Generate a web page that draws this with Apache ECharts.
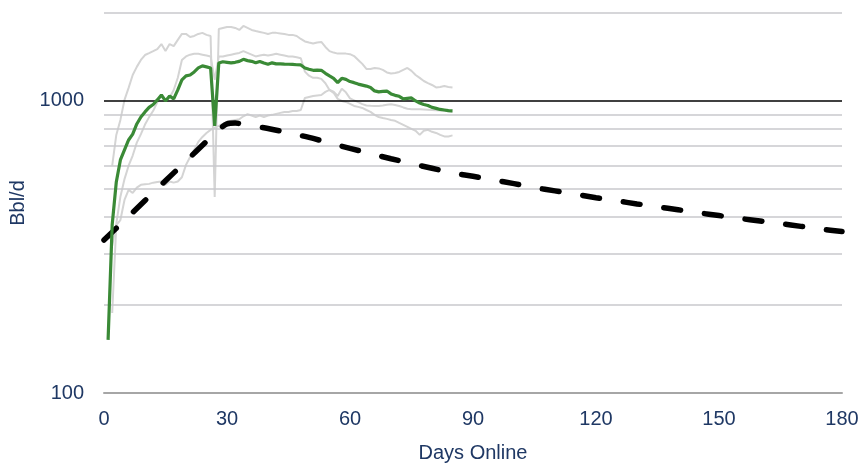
<!DOCTYPE html>
<html>
<head>
<meta charset="utf-8">
<script src="https://cdn.jsdelivr.net/npm/echarts@6/dist/echarts.min.js"></script>
<style>
  html, body { margin: 0; padding: 0; background: #ffffff; }
  #chart { width: 862px; height: 463px; }
</style>
</head>
<body>
<div id="chart"></div>
<script>
// Daily production, Bbl/d, by days online
const avgStartDay = 1;
const avgBbl = [152, 377, 528, 628, 680, 735, 770, 834, 881, 917,
  950, 972, 1008, 1048, 1000, 1040, 1016, 1091, 1180, 1218,
  1227, 1257, 1297, 1318, 1308, 1297, 821, 1349, 1362, 1356,
  1350, 1356, 1366, 1388, 1374, 1366, 1350, 1365, 1348, 1335,
  1350, 1339, 1339, 1336, 1335, 1333, 1330, 1328, 1297, 1283,
  1273, 1275, 1273, 1243, 1218, 1195, 1155, 1195, 1185, 1165,
  1155, 1142, 1133, 1124, 1112, 1082, 1074, 1078, 1081, 1057,
  1045, 1037, 1016, 1020, 1024, 1000, 984, 972, 965, 950,
  943, 935, 931, 926, 924];

// Individual wells, from day 2
const wellStartDay = 2;
const wellHigh = [600, 765, 861, 1008, 1108, 1227, 1308, 1381, 1436,
  1458, 1481, 1505, 1565, 1481, 1565, 1540, 1618, 1696, 1696,
  1656, 1669, 1696, 1710, 1683, 1669, 469, 1764, 1778, 1792,
  1792, 1778, 1750, 1806, 1778, 1750, 1736, 1723, 1710, 1696,
  1710, 1710, 1703, 1696, 1683, 1683, 1669, 1630, 1598, 1585,
  1573, 1585, 1592, 1530, 1481, 1464, 1452, 1452, 1452, 1446,
  1424, 1381, 1339, 1287, 1287, 1297, 1292, 1277, 1252, 1242,
  1247, 1257, 1277, 1297, 1267, 1227, 1199, 1170, 1151, 1134,
  1112, 1116, 1124, 1116, 1112];
const wellMid = [320, 380, 470, 540, 600, 650, 720, 770, 830,
  880, 925, 990, 1049, 1003, 1025, 1090, 1200, 1380, 1420,
  1440, 1450, 1450, 1440, 1430, 1420, 1180, 1420, 1420, 1430,
  1440, 1450, 1460, 1480, 1460, 1440, 1420, 1430, 1440, 1430,
  1440, 1450, 1440, 1430, 1420, 1420, 1410, 1400, 1260, 1220,
  1200, 1200, 1190, 1150, 1090, 1075, 1040, 1100, 1070, 1020,
  1005, 990, 975, 965, 962, 961, 961, 965, 970, 974,
  968, 961, 950, 940, 937, 937, 937, 935, 933, 931,
  930, 928, 926, 922, 918];
const wellLow = [188, 376, 391, 458, 496, 484, 505, 516, 518,
  520, 525, 528, 530, 516, 530, 525, 530, 548, 604,
  643, 680, 724, 753, 777, 796, 810, 821, 834, 848,
  855, 861, 865, 886, 901, 891, 881, 891, 881, 891,
  896, 903, 910, 917, 917, 924, 924, 931, 1024, 1032,
  1040, 1044, 1048, 1074, 1091, 1066, 1016, 1000, 992, 977,
  961, 954, 946, 931, 917, 896, 881, 874, 868, 861,
  855, 841, 828, 815, 802, 790, 765, 790, 796, 784,
  777, 765, 756, 756, 762];

// Type curve
const typeDays = [0, 5, 10, 15, 20, 25, 28, 30, 32, 35, 40, 45, 50, 55, 60, 65, 70, 75,
  80, 85, 90, 95, 100, 105, 110, 115, 120, 125, 130, 135, 140, 145, 150,
  155, 160, 165, 170, 175, 180];
const typeBbl = [334, 390, 456, 533, 622, 727, 795, 835, 840, 825, 805, 777, 750, 718, 688, 660, 634, 610,
  588, 567, 552, 536, 521, 505, 492, 479, 466, 455, 444, 434, 424, 414, 405,
  396, 388, 380, 372, 364, 357];

// Axis settings
const xTicks = [0, 30, 60, 90, 120, 150, 180];
const yLabelValues = [100, 1000];
const minorGridValues = [200, 300, 400, 500, 600, 700, 800, 900, 2000];
const majorGridValue = 1000;

const navy = '#1F3864';
const font = "'Liberation Sans', Arial, sans-serif";

function pairs(startDay, values) {
  return values.map((v, i) => [startDay + i, v]);
}

function wellSeries(name, values) {
  return {
    name: name,
    type: 'line',
    data: pairs(wellStartDay, values),
    showSymbol: false,
    symbol: 'none',
    silent: true,
    lineStyle: { color: '#D4D4D4', width: 2 },
    z: 3
  };
}

const chart = echarts.init(document.getElementById('chart'), null, { renderer: 'canvas' });

chart.setOption({
  animation: false,
  backgroundColor: '#ffffff',
  grid: { left: 104, right: 20, top: 13, bottom: 70, containLabel: false, outerBoundsMode: 'none' },
  xAxis: {
    type: 'value',
    min: xTicks[0],
    max: xTicks[xTicks.length - 1],
    interval: 30,
    name: 'Days Online',
    nameLocation: 'middle',
    nameGap: 50,
    nameTextStyle: { color: navy, fontSize: 20, fontFamily: font },
    axisLine: { show: true, lineStyle: { color: '#A6A6A6', width: 2 } },
    axisTick: { show: false },
    splitLine: { show: false },
    axisLabel: { color: navy, fontSize: 20, fontFamily: font, margin: 16 }
  },
  yAxis: {
    type: 'log',
    logBase: 10,
    min: 100,
    max: 2000,
    name: 'Bbl/d',
    nameLocation: 'middle',
    nameGap: 76,
    nameTextStyle: { color: navy, fontSize: 20, fontFamily: font },
    axisLine: { show: false },
    axisTick: { show: false },
    splitLine: { show: false },
    axisLabel: {
      color: navy, fontSize: 20, fontFamily: font, margin: 20,
      formatter: v => (yLabelValues.indexOf(Math.round(v)) >= 0 ? String(Math.round(v)) : '')
    }
  },
  series: [
    {
      name: 'grid',
      type: 'line',
      data: [],
      silent: true,
      z: 1,
      markLine: {
        silent: true,
        symbol: 'none',
        label: { show: false },
        animation: false,
        data: minorGridValues.map(v => ({ yAxis: v, lineStyle: { color: '#C9C9CD', width: 1.5, type: 'solid' } }))
          .concat([{ yAxis: majorGridValue, lineStyle: { color: '#000000', width: 1.5, type: 'solid' } }])
      }
    },
    wellSeries('High', wellHigh),
    wellSeries('Mid', wellMid),
    wellSeries('Low', wellLow),
    {
      name: 'Type Curve',
      type: 'line',
      data: typeDays.map((d, i) => [d, typeBbl[i]]),
      showSymbol: false,
      symbol: 'none',
      smooth: 0.3,
      lineStyle: { color: '#000000', width: 5.5, type: [17, 24], cap: 'round' },
      z: 5
    },
    {
      name: 'Average',
      type: 'line',
      data: pairs(avgStartDay, avgBbl),
      showSymbol: false,
      symbol: 'none',
      lineStyle: { color: '#3A8A36', width: 3.2 },
      z: 6
    }
  ]
});
</script>
</body>
</html>
